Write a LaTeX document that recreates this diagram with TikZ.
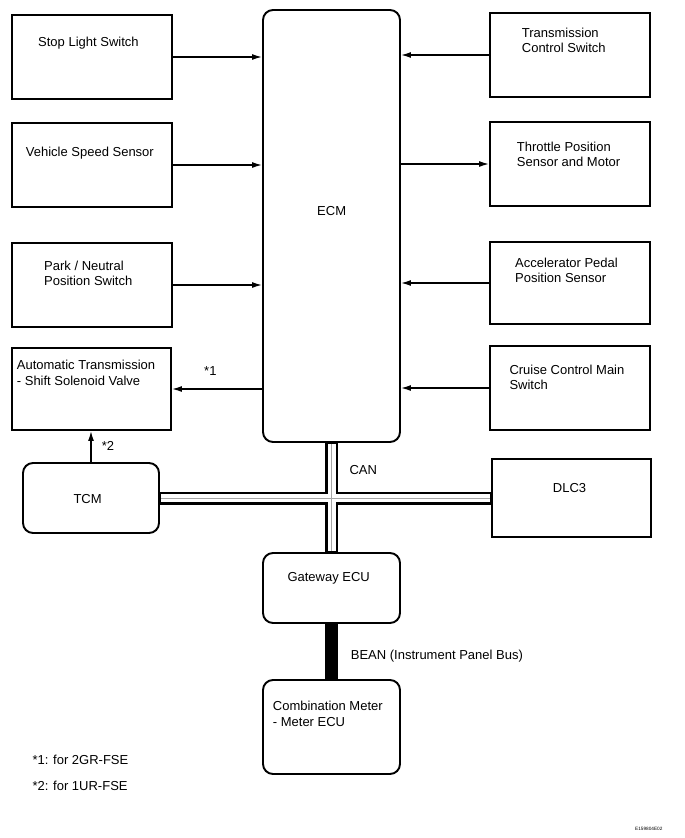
\documentclass[tikz,border=0pt]{standalone}
\usepackage{fontspec}
\setmainfont{Liberation Sans}
\usetikzlibrary{arrows.meta}
\begin{document}
\begin{tikzpicture}[x=1pt,y=-1pt,
  box/.style={draw, line width=1.9pt, inner sep=0pt, fill=white},
  rbox/.style={box, rounded corners=10pt},
  lbl/.style={anchor=base west, inner sep=0pt, font=\fontsize{13}{15.5}\selectfont, align=left},
  arr/.style={line width=1.4pt, -{Latex[length=10pt,width=6pt]}},
  busout/.style={line width=13pt, black},
  busin/.style={line width=8pt, white, shorten <=1pt, shorten >=1pt},
  buscore/.style={line width=0.7pt, gray!70, shorten <=1pt, shorten >=1pt},
]
\fill[white] (0,0) rectangle (685,838);
\useasboundingbox (0,0) rectangle (685,838);

% boxes
\node[box, minimum width=160pt, minimum height=84pt] (sls) at (92,57) {};
\node[box, minimum width=160pt, minimum height=84pt] (vss) at (92,165) {};
\node[box, minimum width=160pt, minimum height=84pt] (pnp) at (92,285) {};
\node[box, minimum width=159pt, minimum height=82pt] (at) at (91.5,389) {};
\node[rbox, minimum width=137pt, minimum height=432pt] (ecm) at (331.5,226) {};
\node[box, minimum width=160pt, minimum height=84pt] (tcs) at (570,55) {};
\node[box, minimum width=160pt, minimum height=84pt] (tps) at (570,164) {};
\node[box, minimum width=160pt, minimum height=82pt] (apps) at (570,283) {};
\node[box, minimum width=160pt, minimum height=84pt] (ccm) at (570,388) {};
\node[rbox, minimum width=136pt, minimum height=70pt] (tcm) at (91,498) {};
\node[box, minimum width=159pt, minimum height=78pt] (dlc) at (571.5,498) {};
\node[rbox, minimum width=137pt, minimum height=70pt] (gw) at (331.5,588) {};
\node[rbox, minimum width=137pt, minimum height=94pt] (cm) at (331.5,727) {};

% arrows
\draw[arr] (sls.east) -- (sls.east -| ecm.west);
\draw[arr] (vss.east) -- (vss.east -| ecm.west);
\draw[arr] (pnp.east) -- (pnp.east -| ecm.west);
\draw[arr] (at.east -| ecm.west) -- (at.east);
\draw[arr] (tcs.west) -- (tcs.west -| ecm.east);
\draw[arr] (tps.west -| ecm.east) -- (tps.west);
\draw[arr] (apps.west) -- (apps.west -| ecm.east);
\draw[arr] (ccm.west) -- (ccm.west -| ecm.east);
\draw[arr] (tcm.north) -- (tcm.north |- at.south);

% buses
\draw[busout] (tcm.east) -- (dlc.west);
\draw[busout] (ecm.south) -- (gw.north);
\draw[busin] (tcm.east) -- (dlc.west);
\draw[busin] (ecm.south) -- (gw.north);
\draw[buscore] (tcm.east) -- (dlc.west);
\draw[buscore] (ecm.south) -- (gw.north);
\draw[busout] (gw.south) -- (cm.north);

% texts (multi-line: base = last line baseline)
\node[lbl] (tsls) at (38,46.5) {Stop Light Switch};
\node[lbl] (tvss) at (25.7,156) {Vehicle Speed Sensor};
\node[lbl] (tpnp) at (44,285.5) {Park / Neutral\\Position Switch};
\node[lbl] (tat) at (16.7,385) {Automatic Transmission\\- Shift Solenoid Valve};
\node[lbl] (ttcs) at (521.7,52.5) {Transmission\\Control Switch};
\node[lbl] (ttps) at (516.7,166.5) {Throttle Position\\Sensor and Motor};
\node[lbl] (tapps) at (515,282.5) {Accelerator Pedal\\Position Sensor};
\node[lbl] (tccm) at (509.3,389.5) {Cruise Control Main\\Switch};
\node[lbl] (tdlc) at (552.7,492) {DLC3};
\node[lbl] (ttcm) at (73.3,503) {TCM};
\node[lbl] (tgw) at (287.3,581) {Gateway ECU};
\node[lbl] (tcmt) at (272.7,726) {Combination Meter\\- Meter ECU};
\node[lbl] (tbean) at (350.7,659) {BEAN (Instrument Panel Bus)};
\node[lbl] (tcan) at (349.3,474.5) {CAN};
\node[lbl] (tecm) at (317,215) {ECM};
\node[lbl] (n1) at (204,375) {*1};
\node[lbl] (n2) at (101.7,450) {*2};
\node[lbl] (f1) at (32.3,764) {*1: for 2GR-FSE};
\node[lbl] (f2) at (32.3,790) {*2: for 1UR-FSE};
\node[anchor=base west, inner sep=0pt, font=\fontsize{4.7}{5}\selectfont] (code) at (635,830) {E159804E02};
\end{tikzpicture}
\end{document}
